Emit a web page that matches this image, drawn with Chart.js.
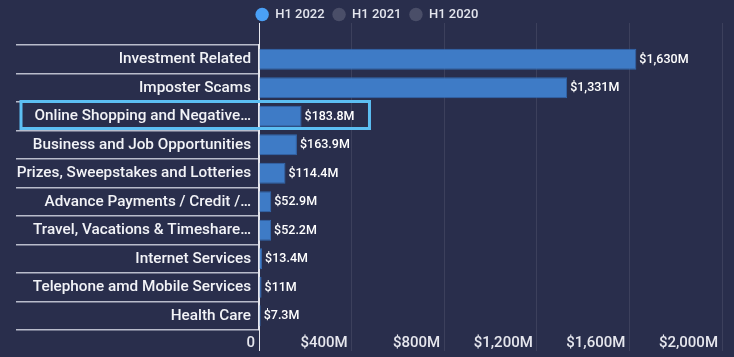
<!DOCTYPE html>
<html>
<head>
<meta charset="utf-8">
<script src="https://cdn.jsdelivr.net/npm/chart.js@4/dist/chart.umd.min.js"></script>
<style>
  html, body { margin: 0; padding: 0; background: #292e4c; }
  #wrap { width: 734px; height: 357px; }
</style>
</head>
<body>
<div id="wrap"><canvas id="c" width="734" height="357"></canvas></div>
<script>
// ---- data ----
const categories = [
  "Investment Related",
  "Imposter Scams",
  "Online Shopping and Negative…",
  "Business and Job Opportunities",
  "Prizes, Sweepstakes and Lotteries",
  "Advance Payments / Credit /…",
  "Travel, Vacations & Timeshare…",
  "Internet Services",
  "Telephone amd Mobile Services",
  "Health Care"
];
const seriesNames = ["H1 2022", "H1 2021", "H1 2020"];
const h1_2022 = [1630, 1331, 183.8, 163.9, 114.4, 52.9, 52.2, 13.4, 11, 7.3];
const h1_2021 = [];
const h1_2020 = [];
const xTickValues = [0, 400, 800, 1200, 1600, 2000];
const highlightedCategory = "Online Shopping and Negative…";
const legendColors = ['#4aa0f6', '#4a4e68', '#4a4e68'];

function money(v) {
  return '$' + v.toLocaleString('en-US', {maximumFractionDigits: 1}) + 'M';
}
function tickLabel(v) {
  return v === 0 ? '0' : money(v);
}

const valueLabels = {
  id: 'valueLabels',
  afterDatasetsDraw(chart) {
    const ctx = chart.ctx;
    const meta = chart.getDatasetMeta(0);
    ctx.save();
    ctx.font = '500 12.5px Roboto';
    ctx.fillStyle = '#ffffff';
    ctx.textBaseline = 'middle';
    ctx.textAlign = 'left';
    meta.data.forEach((bar, i) => {
      ctx.fillText(money(h1_2022[i]), bar.x + 3, bar.y + 0.5);
    });
    // highlight box
    const idx = categories.indexOf(highlightedCategory);
    if (idx >= 0) {
      const y = chart.scales.y;
      const band = Math.abs(y.getPixelForValue(1) - y.getPixelForValue(0));
      const cy = y.getPixelForValue(idx);
      const bar = meta.data[idx];
      const right = bar.x + 3 + ctx.measureText(money(h1_2022[idx])).width + 15;
      const left = chart.chartArea.left - 238;
      ctx.lineWidth = 3;
      ctx.strokeStyle = '#5cbff3';
      ctx.strokeRect(left, cy - band / 2 - 0.5, right - left, band - 1.5);
    }
    ctx.restore();
  }
};

const gridColor = 'rgba(255,255,255,0.09)';
function xGridColor(c) {
  return c.tick && c.tick.value === 0 ? '#e6e7ee' : gridColor;
}

new Chart(document.getElementById('c'), {
  type: 'bar',
  data: {
    labels: categories,
    datasets: [
      { label: seriesNames[0], data: h1_2022, backgroundColor: '#3e7bc6', borderColor: '#3367ad', borderWidth: 1, borderSkipped: 'left' },
      { label: seriesNames[1], data: h1_2021, backgroundColor: '#4a4e68', borderColor: '#4a4e68' },
      { label: seriesNames[2], data: h1_2020, backgroundColor: '#4a4e68', borderColor: '#4a4e68' }
    ]
  },
  plugins: [valueLabels],
  options: {
    indexAxis: 'y',
    responsive: false,
    animation: false,
    devicePixelRatio: 1,
    layout: { padding: { left: 12, right: 12, top: 0, bottom: 0 } },
    datasets: { bar: { grouped: false, barPercentage: 0.74, categoryPercentage: 1 } },
    plugins: {
      tooltip: { enabled: false },
      legend: {
        position: 'top',
        align: 'center',
        labels: {
          usePointStyle: true,
          pointStyle: 'circle',
          boxWidth: 17,
          boxHeight: 9.5,
          padding: 8,
          color: '#e4e6ee',
          font: { family: 'Roboto', size: 13, weight: '500' },
          generateLabels: chart => {
            const base = Chart.defaults.plugins.legend.labels.generateLabels(chart);
            return base.map((l, i) => Object.assign(l, {
              fillStyle: legendColors[i], strokeStyle: legendColors[i], lineWidth: 0
            }));
          }
        }
      }
    },
    scales: {
      x: {
        type: 'linear',
        position: 'bottom',
        min: 0,
        max: xTickValues[xTickValues.length - 1],
        afterBuildTicks: s => { s.ticks = xTickValues.map(v => ({ value: v })); },
        afterFit: s => { s.height = 27; },
        border: { display: false },
        grid: { color: xGridColor, lineWidth: 1, tickLength: 21, drawTicks: true },
        ticks: {
          align: 'end',
          padding: -17,
          labelOffset: -4,
          color: '#e6e7ee',
          font: { family: 'Roboto', size: 15, weight: '500' },
          callback: v => tickLabel(v)
        }
      },
      xTop: {
        type: 'linear',
        position: 'top',
        axis: 'x',
        min: 0,
        max: xTickValues[xTickValues.length - 1],
        afterBuildTicks: s => { s.ticks = xTickValues.map(v => ({ value: v })); },
        afterFit: s => { s.height = 45 - (s.chart.legend ? s.chart.legend.height : 0); },
        border: { display: false },
        grid: { color: xGridColor, lineWidth: 1, tickLength: 22, drawOnChartArea: false },
        ticks: { display: false }
      },
      y: {
        type: 'category',
        position: 'left',
        afterFit: s => { s.width = 247; },
        border: { display: true, color: '#e6e7ee', width: 2 },
        grid: { offset: true, drawOnChartArea: false, tickLength: 243, color: '#b9bccb', lineWidth: 1.5 },
        ticks: {
          padding: -235,
          color: '#f2f3f7',
          font: { family: 'Roboto', size: 15.3, weight: '500' }
        }
      }
    }
  }
});
</script>
</body>
</html>
